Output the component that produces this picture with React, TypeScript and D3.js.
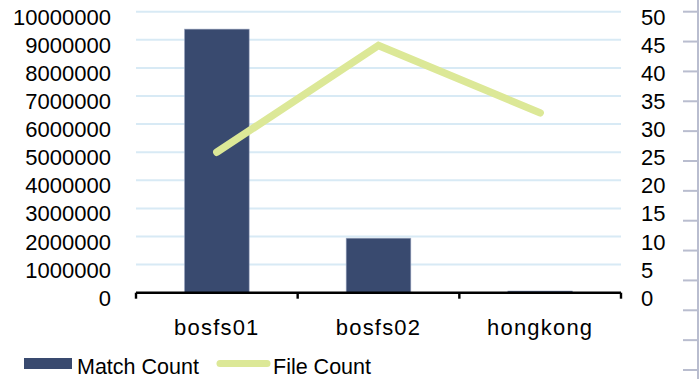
import React from "react";
import * as d3 from "d3";

// Per-server totals: match count on the left axis, file count on the right axis
const categories = ["bosfs01", "bosfs02", "hongkong"];
const matchCount = [9380000, 1940000, 60000];
const fileCount = [25, 44, 32];
const leftTicks = [0, 1000000, 2000000, 3000000, 4000000, 5000000, 6000000, 7000000, 8000000, 9000000, 10000000];
const rightTicks = [0, 5, 10, 15, 20, 25, 30, 35, 40, 45, 50];
const seriesNames = ["Match Count", "File Count"];

const W = 699;
const H = 379;
const FONT = "'Liberation Sans', Arial, sans-serif";
const BAR = "#394a6f";
const LINE = "#dce897";
const GRID = "#d8eaf5";

export default function App() {
  const plotLeft = 136;
  const plotRight = 621;
  const plotTop = 11.7;
  const plotBottom = 292.7;

  const x = d3
    .scaleBand<string>()
    .domain(categories)
    .range([plotLeft, plotRight])
    .paddingInner(0.6)
    .paddingOuter(0.3);
  const step = x.step();
  const yL = d3.scaleLinear().domain([0, 10000000]).range([plotBottom, plotTop]);
  const yR = d3.scaleLinear().domain([0, 50]).range([plotBottom, plotTop]);

  const lineGen = d3
    .line<number>()
    .x((_, i) => (x(categories[i]) as number) + x.bandwidth() / 2)
    .y((d) => yR(d));

  // category boundary ticks below the axis
  const boundaries = d3.range(categories.length + 1).map((i) => plotLeft + i * step);

  // faint tick rail along the right edge
  const rail = d3.scaleLinear().domain([0, 12]).range([11.7, 370]);
  const railTicks = rail.ticks(12);

  return (
    <div style={{ position: "absolute", left: 0, top: 0 }}>
      <svg width={W} height={H} style={{ display: "block", background: "#fff" }} fontFamily={FONT}>
        {/* gridlines */}
        {leftTicks
          .filter((t) => t > 0)
          .map((t) => (
            <line key={t} x1={plotLeft} x2={plotRight} y1={yL(t)} y2={yL(t)} stroke={GRID} strokeWidth={2} />
          ))}

        {/* bars */}
        {categories.map((c, i) => (
          <rect
            key={c}
            x={x(c)}
            y={yL(matchCount[i])}
            width={x.bandwidth()}
            height={plotBottom - yL(matchCount[i])}
            fill={BAR}
            stroke="#9aa6c0"
            strokeWidth={0.6}
          />
        ))}

        {/* category axis */}
        <line x1={plotLeft} x2={plotRight} y1={plotBottom} y2={plotBottom} stroke="#000" strokeWidth={2.6} />
        {boundaries.map((bx, i) => (
          <line key={i} x1={bx} x2={bx} y1={plotBottom} y2={plotBottom + 6} stroke="#000" strokeWidth={2.4} />
        ))}

        {/* file count line */}
        <path
          d={lineGen(fileCount) || ""}
          fill="none"
          stroke={LINE}
          strokeWidth={7.5}
          strokeLinecap="round"
          strokeLinejoin="miter"
        />

        {/* left axis labels */}
        {leftTicks.map((t) => (
          <text key={t} x={111} y={yL(t) + 13} textAnchor="end" fontSize={22} fill="#000">
            {t}
          </text>
        ))}

        {/* right axis labels */}
        {rightTicks.map((t) => (
          <text key={t} x={641} y={yR(t) + 13} textAnchor="start" fontSize={22} fill="#000">
            {t}
          </text>
        ))}

        {/* category labels */}
        {categories.map((c) => (
          <text
            key={c}
            x={(x(c) as number) + x.bandwidth() / 2}
            y={335}
            textAnchor="middle"
            fontSize={22}
            letterSpacing={1.2}
            fill="#000"
          >
            {c}
          </text>
        ))}

        {/* legend */}
        <rect x={24} y={358} width={48} height={11} fill={BAR} />
        <text x={77} y={374} fontSize={21.5} fill="#000">
          {seriesNames[0]}
        </text>
        <line x1={220} x2={267} y1={363.5} y2={363.5} stroke={LINE} strokeWidth={7} strokeLinecap="round" />
        <text x={273} y={374} fontSize={21.5} fill="#000">
          {seriesNames[1]}
        </text>

        {/* right edge rail */}
        <line x1={698} x2={698} y1={0} y2={H} stroke="#b9bdcf" strokeWidth={2} />
        {railTicks.map((t) => (
          <line key={t} x1={683} x2={698} y1={rail(t)} y2={rail(t)} stroke="#b9bdcf" strokeWidth={2} />
        ))}
      </svg>
    </div>
  );
}
